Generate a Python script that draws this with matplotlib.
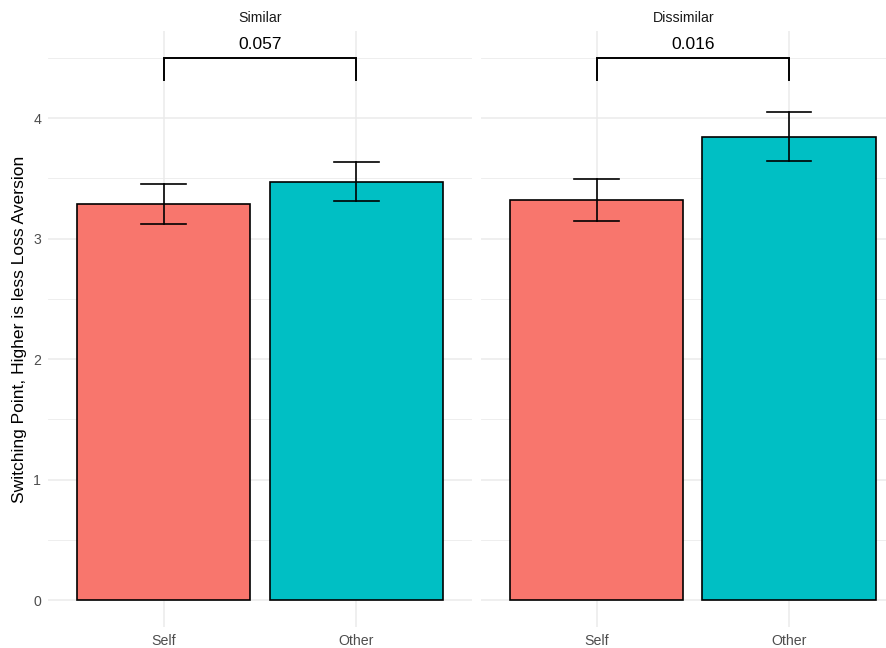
import matplotlib
matplotlib.use("Agg")
import matplotlib.pyplot as plt
import numpy as np

plt.rcParams['font.family'] = ['Liberation Sans', 'DejaVu Sans']

panels = ["Similar", "Dissimilar"]
conditions = ["Self", "Other"]
means = {"Similar": [3.29, 3.47], "Dissimilar": [3.32, 3.84]}
err_low = {"Similar": [3.12, 3.31], "Dissimilar": [3.145, 3.645]}
err_high = {"Similar": [3.455, 3.635], "Dissimilar": [3.495, 4.05]}
p_values = {"Similar": "0.057", "Dissimilar": "0.016"}
bracket_top = 4.5
bracket_bottom = 4.315
bar_colors = ["#F8766D", "#00BFC4"]

W, H = 886, 648
fig = plt.figure(figsize=(W/100, H/100), dpi=100)

y_lo, y_hi = -0.224, 4.722
grid_c = "#EBEBEB"
axes_px = [(48, 472, 0.4, 2.6), (481, 886, 0.4, 0.4 + 405/192.5)]
top_px, bot_px = 31, 627

for i, (panel, (l, r, x0, x1)) in enumerate(zip(panels, axes_px)):
    ax = fig.add_axes([l/W, 1 - bot_px/H, (r-l)/W, (bot_px-top_px)/H])
    ax.set_xlim(x0, x1)
    ax.set_ylim(y_lo, y_hi)
    for s in ax.spines.values():
        s.set_visible(False)
    xs = np.arange(1, len(conditions)+1)
    # grid
    for yv in np.arange(0, 4.6, 0.5):
        major = abs(yv - round(yv)) < 1e-9
        ax.axhline(yv, color=grid_c, lw=1.1 if major else 0.6, zorder=0)
    for xv in xs:
        ax.axvline(xv, color=grid_c, lw=1.1, zorder=0)
    ax.bar(xs, means[panel], width=0.9, color=bar_colors, edgecolor="black", linewidth=1.2, zorder=2)
    for xv, lo, hi in zip(xs, err_low[panel], err_high[panel]):
        ax.plot([xv, xv], [lo, hi], color="black", lw=1.2, zorder=3)
        ax.plot([xv-0.115, xv+0.115], [lo, lo], color="black", lw=1.2, zorder=3)
        ax.plot([xv-0.115, xv+0.115], [hi, hi], color="black", lw=1.2, zorder=3)
    ax.plot([1, 1, 2, 2], [bracket_bottom, bracket_top, bracket_top, bracket_bottom],
            color="black", lw=1.4, zorder=3, solid_joinstyle="miter")
    ax.text(1.5, bracket_top + 0.05, p_values[panel], ha="center", va="bottom", fontsize=12.5, color="black")
    ax.set_xticks(xs)
    ax.set_xticklabels(conditions, fontsize=10.2, color="#4D4D4D")
    ax.tick_params(axis="both", length=0, pad=5)
    if i == 0:
        ax.set_yticks([0, 1, 2, 3, 4])
        ax.set_yticklabels(["0", "1", "2", "3", "4"], fontsize=10.2, color="#4D4D4D")
        ax.set_ylabel("Switching Point, Higher is less Loss Aversion", fontsize=12.6, color="black", labelpad=4)
    else:
        ax.set_yticks([])
    fig.text((l + r)/2/W, 1 - 18/H, panel, ha="center", va="center", fontsize=10.2, color="#1A1A1A")

fig.savefig("out.png", dpi=100, facecolor="white")
